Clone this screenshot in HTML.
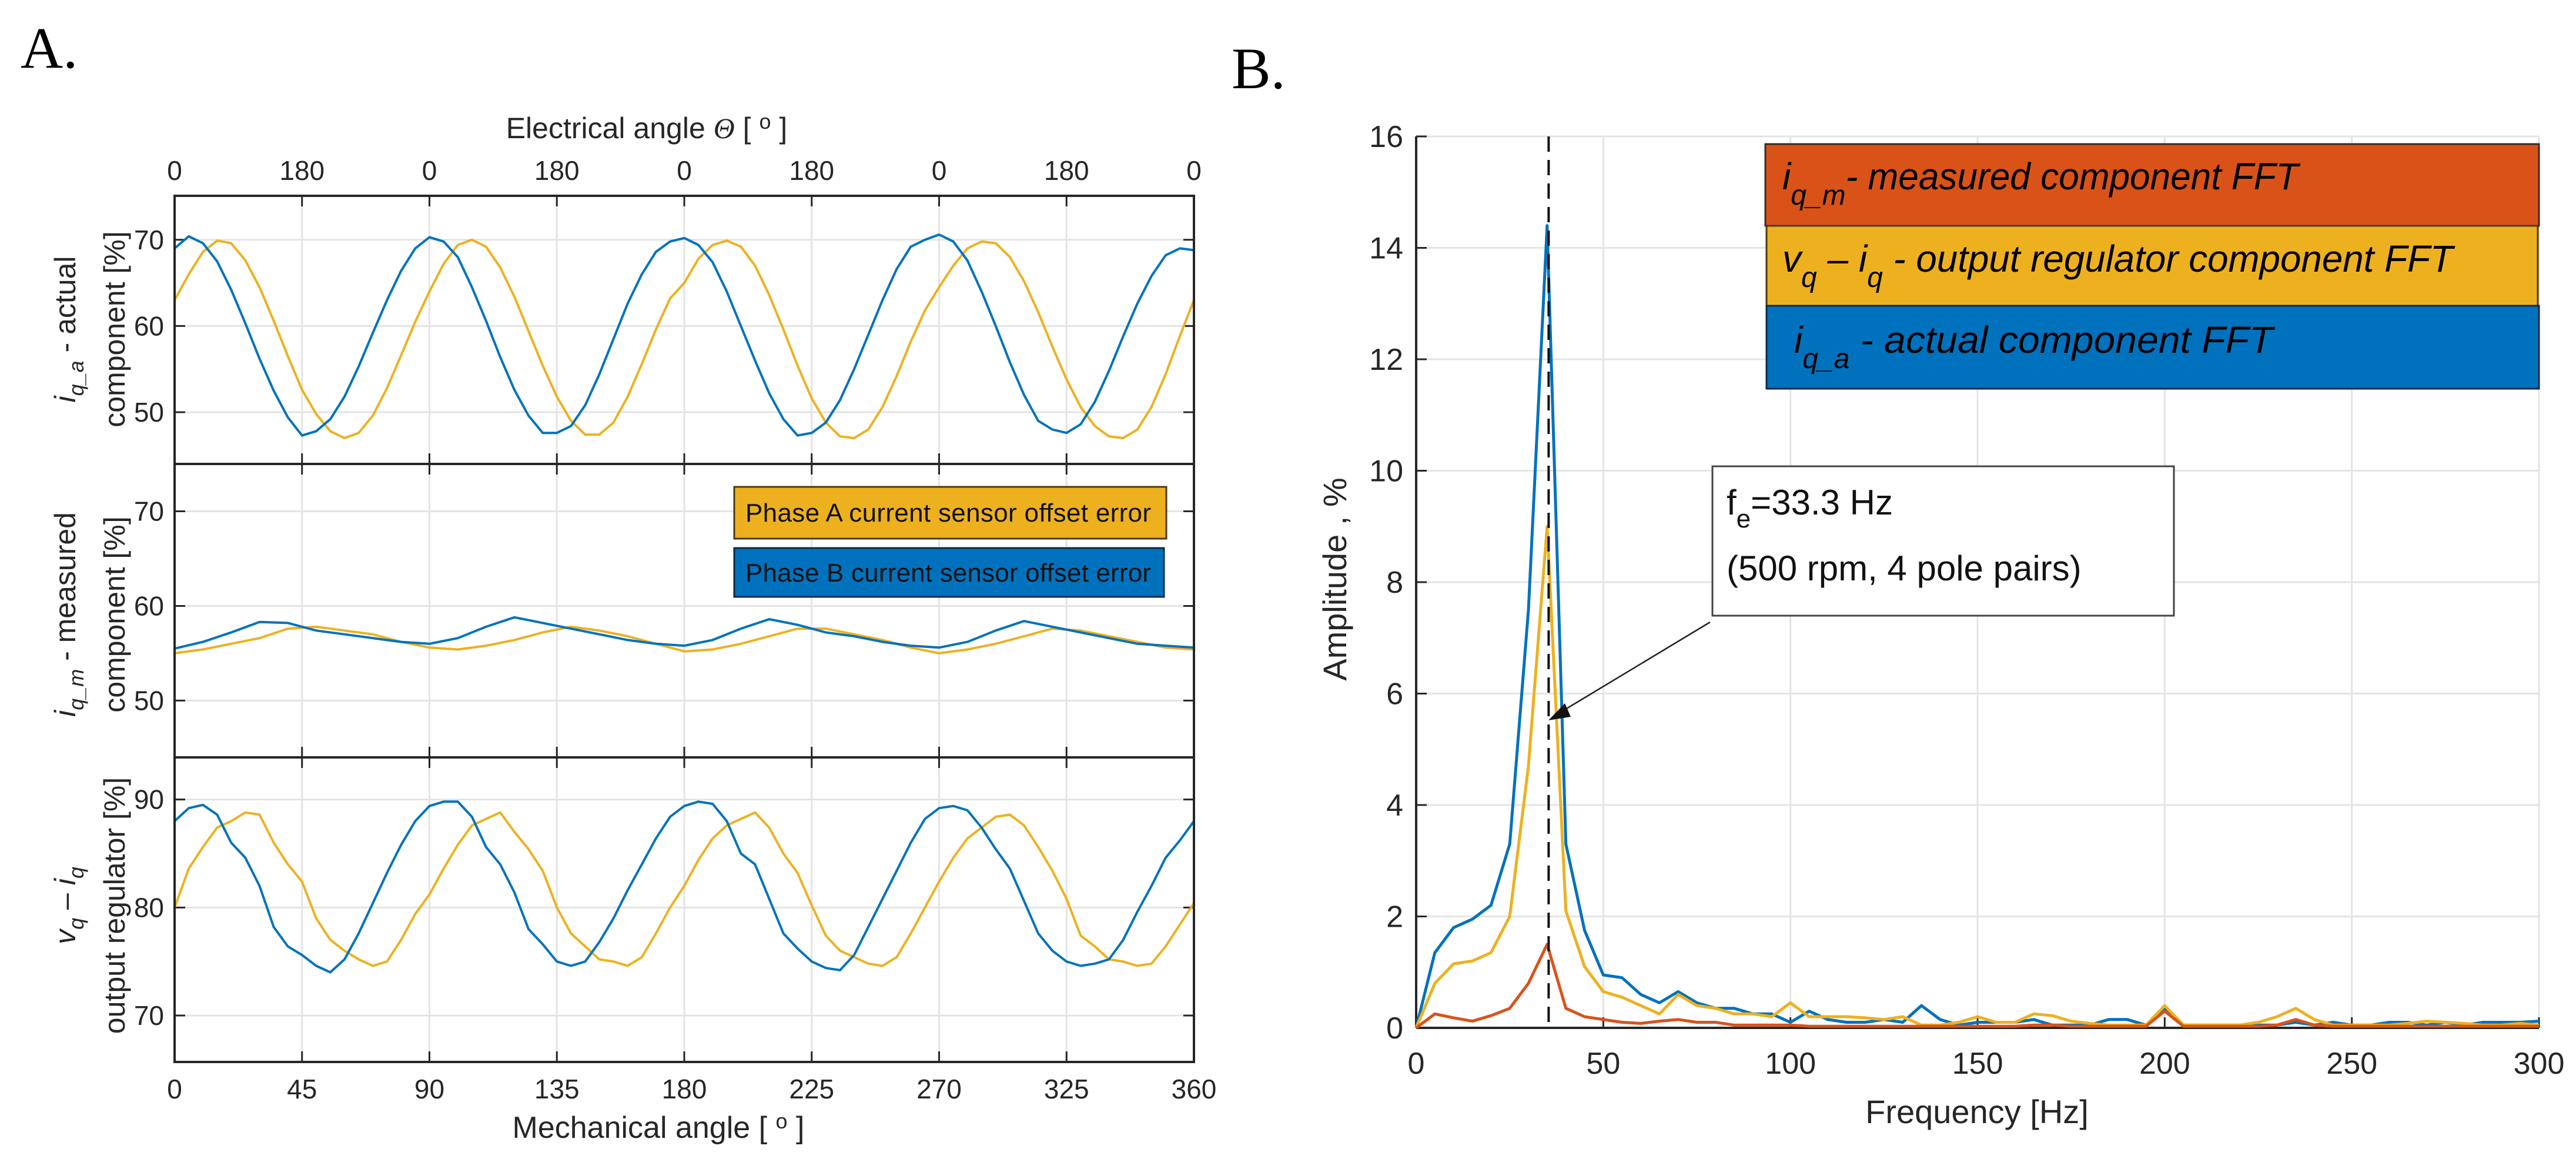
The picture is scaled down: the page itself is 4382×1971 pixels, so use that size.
<!DOCTYPE html>
<html><head><meta charset="utf-8"><style>
html,body{margin:0;padding:0;background:#fff;}
svg{display:block;font-family:"Liberation Sans",sans-serif;}
</style></head><body>
<svg id="fig" width="4382" height="1971" viewBox="0 0 4382 1971" xmlns="http://www.w3.org/2000/svg">
<text x="35" y="115" font-family="Liberation Serif, serif" font-size="100">A.</text>
<text x="2095" y="150" font-family="Liberation Serif, serif" font-size="100">B.</text>
<g id="A"></g>
<g id="B"></g>
</svg>
<script>
// ---------- Panel A data ----------
const angleStep = 5;
const iqaBlue = [69.0,70.4,69.6,67.5,64.2,60.3,56.2,52.5,49.4,47.3,47.8,49.2,51.8,55.3,59.2,63.0,66.4,69.0,
70.3,69.8,68.0,64.5,60.6,56.4,52.6,49.6,47.6,47.6,48.4,50.8,54.4,58.5,62.6,66.0,68.6,69.8,
70.2,69.4,67.4,64.0,60.0,56.0,52.2,49.2,47.3,47.6,48.8,51.4,55.0,59.0,63.0,66.6,69.2,70.0,
70.6,69.8,67.6,64.0,60.0,55.8,52.0,49.0,48.0,47.6,48.6,51.2,54.8,58.8,62.6,65.8,68.2,69.0,68.8];
const iqaOrange = [63.0,66.0,68.6,69.9,69.6,67.6,64.5,60.6,56.5,52.6,49.8,47.8,47.0,47.6,49.6,52.8,56.6,60.5,
64.0,67.2,69.4,70.0,69.2,66.8,63.4,59.4,55.4,51.8,49.0,47.4,47.4,48.8,51.8,55.6,59.6,63.2,
65.0,67.8,69.4,69.9,69.2,67.0,63.6,59.6,55.4,51.6,48.8,47.2,47.0,48.0,50.6,54.2,58.2,61.8,
64.5,67.0,69.0,69.8,69.6,68.0,65.2,61.6,57.6,53.8,50.6,48.4,47.2,47.0,48.0,50.6,54.4,58.8,63.0];
const measStep = 10;
const iqmBlue = [55.5,56.2,57.2,58.3,58.2,57.4,57.0,56.6,56.2,56.0,56.6,57.8,58.8,58.2,57.6,57.0,56.4,56.0,55.8,56.4,57.6,58.6,58.0,57.2,56.8,56.2,55.8,55.6,56.2,57.4,58.4,57.8,57.2,56.6,56.0,55.8,55.6];
const iqmOrange = [55.0,55.4,56.0,56.6,57.6,57.8,57.4,57.0,56.2,55.6,55.4,55.8,56.4,57.2,57.8,57.4,56.8,56.0,55.2,55.4,56.0,56.8,57.6,57.6,57.0,56.4,55.6,55.0,55.4,56.0,56.8,57.6,57.4,56.8,56.2,55.6,55.4];
const vqBlue = [88.0,89.2,89.5,88.6,86.0,84.6,82.0,78.2,76.4,75.6,74.6,74.0,75.2,77.6,80.4,83.2,85.8,88.0,
89.4,89.8,89.8,88.4,85.6,84.0,81.4,78.0,76.6,75.0,74.6,75.0,76.8,79.0,81.6,84.0,86.4,88.4,
89.4,89.8,89.6,88.0,85.0,84.0,80.8,77.6,76.2,75.0,74.4,74.2,75.6,78.2,80.8,83.4,86.0,88.2,
89.2,89.4,89.0,87.4,85.4,83.6,80.6,77.6,76.0,75.0,74.6,74.8,75.2,77.0,79.6,82.0,84.6,86.2,88.0];
const vqOrange = [80.0,83.6,85.6,87.4,88.0,88.8,88.6,86.0,84.0,82.4,79.0,77.0,76.0,75.2,74.6,75.0,77.0,79.4,
81.2,83.6,85.8,87.6,88.2,88.8,87.0,85.4,83.4,80.0,77.6,76.4,75.2,75.0,74.6,75.4,77.6,80.0,
82.0,84.4,86.4,87.6,88.2,88.8,87.4,85.0,83.2,80.2,77.4,76.0,75.4,74.8,74.6,75.4,77.6,80.0,
82.4,84.6,86.4,87.4,88.4,88.6,87.6,85.6,83.4,80.8,77.4,76.4,75.2,75.0,74.6,74.8,76.4,78.4,80.4];
const mechTicks = [0,45,90,135,180,225,270,315,360];
const mechTickLabels = ["0","45","90","135","180","225","270","325","360"];
const elecTickLabels = ["0","180","0","180","0","180","0","180","0"];
const yTicks1 = [50,60,70], yTicks2 = [50,60,70], yTicks3 = [70,80,90];

// ---------- Panel B data ----------
const freqStep = 5;
const fftBlue = [0,1.35,1.8,1.95,2.2,3.3,7.5,14.4,3.3,1.75,0.95,0.9,0.6,0.45,0.65,0.45,0.35,0.35,0.25,0.25,0.1,0.3,0.15,0.1,0.1,0.15,0.1,0.4,0.15,0.05,0.1,0.1,0.1,0.15,0.05,0.05,0.05,0.15,0.15,0.05,0.35,0.05,0.05,0.05,0.05,0.05,0.05,0.1,0.05,0.1,0.05,0.05,0.1,0.1,0.05,0.1,0.05,0.1,0.1,0.1,0.12];
const fftYellow = [0,0.8,1.15,1.2,1.35,2.0,4.7,9.0,2.1,1.1,0.65,0.55,0.4,0.25,0.6,0.4,0.35,0.25,0.25,0.2,0.45,0.2,0.2,0.2,0.18,0.15,0.2,0.05,0.05,0.1,0.2,0.1,0.1,0.25,0.22,0.12,0.08,0.05,0.05,0.05,0.4,0.05,0.05,0.05,0.05,0.1,0.2,0.35,0.15,0.05,0.05,0.05,0.05,0.08,0.12,0.1,0.08,0.05,0.05,0.08,0.05];
const fftRed = [0,0.25,0.18,0.12,0.22,0.35,0.8,1.5,0.35,0.2,0.15,0.1,0.08,0.12,0.15,0.1,0.1,0.05,0.05,0.05,0.05,0.03,0.03,0.03,0.03,0.03,0.03,0.03,0.03,0.03,0.03,0.03,0.03,0.05,0.05,0.03,0.03,0.03,0.03,0.03,0.3,0.03,0.03,0.03,0.03,0.03,0.05,0.15,0.05,0.03,0.03,0.03,0.03,0.03,0.03,0.03,0.03,0.03,0.03,0.03,0.03];
const freqTicks = [0,50,100,150,200,250,300];
const ampTicks = [0,2,4,6,8,10,12,14,16];
const peakFreq = 35.4;

const NS = "http://www.w3.org/2000/svg";
const BLUE = "#0072BD", ORANGE = "#EDB120", RED = "#D95319";
function mk(parent, tag, attrs, text) {
  const el = document.createElementNS(NS, tag);
  for (const k in attrs) el.setAttribute(k, attrs[k]);
  if (text !== undefined) el.textContent = text;
  parent.appendChild(el);
  return el;
}
const A = document.getElementById('A');
const B = document.getElementById('B');

// A axes
const AL = 297, AR = 2031;
const xA = v => AL + (v / 360) * (AR - AL);
const panels = [
  {top:333, bot:789, ymin:44, ymax:75.1, ticks:yTicks1, s:[iqaOrange, iqaBlue], step:angleStep, name:'actual'},
  {top:789, bot:1288, ymin:44, ymax:75, ticks:yTicks2, s:[iqmOrange, iqmBlue], step:measStep, name:'measured'},
  {top:1288, bot:1806, ymin:65.7, ymax:93.9, ticks:yTicks3, s:[vqOrange, vqBlue], step:angleStep, name:'regulator'}
];
panels.forEach((p, pi) => {
  const y = v => p.bot - (v - p.ymin) / (p.ymax - p.ymin) * (p.bot - p.top);
  const g = mk(A, 'g', {});
  
  
  mechTicks.forEach(t => {
    const gl = mk(g, 'line', {x1:xA(t), x2:xA(t), y1:p.top, y2:p.bot, stroke:'#e4e4e4', 'stroke-width':3});
    
    
    mk(g, 'line', {x1:xA(t), x2:xA(t), y1:p.top, y2:p.top+18, stroke:'#262626', 'stroke-width':3});
    mk(g, 'line', {x1:xA(t), x2:xA(t), y1:p.bot, y2:p.bot-18, stroke:'#262626', 'stroke-width':3});
  });
  p.ticks.forEach(t => {
    const gl = mk(g, 'line', {x1:AL, x2:AR, y1:y(t), y2:y(t), stroke:'#e4e4e4', 'stroke-width':3});
    
    
    mk(g, 'line', {x1:AL, x2:AL+18, y1:y(t), y2:y(t), stroke:'#262626', 'stroke-width':3});
    mk(g, 'line', {x1:AR, x2:AR-18, y1:y(t), y2:y(t), stroke:'#262626', 'stroke-width':3});
    const tl = mk(g, 'text', {x:AL-18, y:y(t)+16, 'text-anchor':'end', 'font-size':46, fill:'#262626'}, String(t));
    
    
  });
  [ORANGE, BLUE].forEach((c, si) => {
    const arr = p.s[si];
    const d = arr.map((v, i) => (i ? 'L' : 'M') + xA(i * p.step).toFixed(1) + ' ' + y(v).toFixed(1)).join(' ');
    const path = mk(g, 'path', {d:d, fill:'none', stroke:c, 'stroke-width':4, 'stroke-linejoin':'round'});
    
    
  });
  mk(g, 'rect', {x:AL, y:p.top, width:AR-AL, height:p.bot-p.top, fill:'none', stroke:'#262626', 'stroke-width':4});
});
mechTicks.forEach((t, i) => {
  const b = mk(A, 'text', {x:xA(t), y:1868, 'text-anchor':'middle', 'font-size':46, fill:'#262626'}, mechTickLabels[i]);
  
  
  const tp = mk(A, 'text', {x:xA(t), y:306, 'text-anchor':'middle', 'font-size':46, fill:'#262626'}, elecTickLabels[i]);
  
  
});
</script>
<script>
// labels A
(function(){
  const NS = "http://www.w3.org/2000/svg";
  const A = document.getElementById('A');
  A.insertAdjacentHTML('beforeend', `
  <text x="1100" y="235" text-anchor="middle" font-size="50" fill="#262626">Electrical angle <tspan font-style="italic" font-family="Liberation Serif, serif">Θ</tspan> [ <tspan dy="-16" font-size="36">o</tspan><tspan dy="16"> ]</tspan></text>
  <text x="1120" y="1935" text-anchor="middle" font-size="52" fill="#262626">Mechanical angle [ <tspan dy="-16" font-size="36">o</tspan><tspan dy="16"> ]</tspan></text>
  <g transform="translate(128,560) rotate(-90)"><text text-anchor="middle" font-size="50" fill="#262626"><tspan font-style="italic">i</tspan><tspan font-style="italic" font-size="36" dy="14">q_a</tspan><tspan dy="-14"> - actual</tspan></text></g>
  <g transform="translate(212,560) rotate(-90)"><text text-anchor="middle" font-size="50" fill="#262626">component [%]</text></g>
  <g transform="translate(128,1045) rotate(-90)"><text text-anchor="middle" font-size="50" fill="#262626"><tspan font-style="italic">i</tspan><tspan font-style="italic" font-size="36" dy="14">q_m</tspan><tspan dy="-14"> - measured</tspan></text></g>
  <g transform="translate(212,1045) rotate(-90)"><text text-anchor="middle" font-size="50" fill="#262626">component [%]</text></g>
  <g transform="translate(128,1540) rotate(-90)"><text text-anchor="middle" font-size="50" fill="#262626"><tspan font-style="italic">v</tspan><tspan font-style="italic" font-size="36" dy="14">q</tspan><tspan dy="-14"> – </tspan><tspan font-style="italic">i</tspan><tspan font-style="italic" font-size="36" dy="14">q</tspan></text></g>
  <g transform="translate(212,1540) rotate(-90)"><text text-anchor="middle" font-size="50" fill="#262626">output regulator [%]</text></g>
  <g>
   <rect x="1249" y="828" width="735" height="88" fill="#EDB120" stroke="#4a3a10" stroke-width="3"/>
   <text x="1268" y="887" font-size="44" fill="#111" textLength="690">Phase A current sensor offset error</text>
   <rect x="1249" y="932" width="731" height="83" fill="#0072BD" stroke="#0a2a4a" stroke-width="3"/>
   <text x="1268" y="989" font-size="44" fill="#111" textLength="690">Phase B current sensor offset error</text>
  </g>`);
})();
</script>
<script>
// Panel B
(function(){
  const BL = 2409, BR = 4319, BT = 232, BBt = 1748;
  const xB = v => BL + v / 300 * (BR - BL);
  const yB = v => BBt - v / 16 * (BBt - BT);
  freqTicks.forEach(t => {
    const gl = mk(B, 'line', {x1:xB(t), x2:xB(t), y1:BT, y2:BBt, stroke:'#e4e4e4', 'stroke-width':3});
    
    
    mk(B, 'line', {x1:xB(t), x2:xB(t), y1:BBt, y2:BBt-18, stroke:'#262626', 'stroke-width':3});
    const tl = mk(B, 'text', {x:xB(t), y:1826, 'text-anchor':'middle', 'font-size':52, fill:'#262626'}, String(t));
    
    
  });
  ampTicks.forEach(t => {
    const gl = mk(B, 'line', {x1:BL, x2:BR, y1:yB(t), y2:yB(t), stroke:'#e4e4e4', 'stroke-width':3});
    
    
    mk(B, 'line', {x1:BL, x2:BL+18, y1:yB(t), y2:yB(t), stroke:'#262626', 'stroke-width':3});
    const tl = mk(B, 'text', {x:BL-22, y:yB(t)+18, 'text-anchor':'end', 'font-size':52, fill:'#262626'}, String(t));
    
    
  });
  mk(B, 'line', {x1:BL, x2:BL, y1:BT, y2:BBt, stroke:'#262626', 'stroke-width':4});
  mk(B, 'line', {x1:BL, x2:BR, y1:BBt, y2:BBt, stroke:'#262626', 'stroke-width':4});
  [[fftBlue, BLUE, 'fft-actual-line'], [fftYellow, ORANGE, 'fft-regulator-line'], [fftRed, RED, 'fft-measured-line']].forEach(s => {
    const d = s[0].map((v, i) => (i ? 'L' : 'M') + xB(i * freqStep).toFixed(1) + ' ' + yB(v).toFixed(1)).join(' ');
    const p = mk(B, 'path', {d:d, fill:'none', stroke:s[1], 'stroke-width':5, 'stroke-linejoin':'round'});
    
    
  });
  const dl = mk(B, 'line', {x1:xB(peakFreq), x2:xB(peakFreq), y1:BT, y2:BBt, stroke:'#111', 'stroke-width':4, 'stroke-dasharray':'26 14'});
  
  
  B.insertAdjacentHTML('beforeend', `
  <text x="3363" y="1910" text-anchor="middle" font-size="56" fill="#262626">Frequency [Hz]</text>
  <g transform="translate(2290,985) rotate(-90)"><text text-anchor="middle" font-size="56" fill="#262626">Amplitude , %</text></g>
  <g>
   <rect x="3003" y="245" width="1316" height="139" fill="#D95319" stroke="#3a2a20" stroke-width="3"/>
   <text x="3032" y="322" font-size="64" font-style="italic" fill="#000">i<tspan font-size="48" dy="26">q_m</tspan><tspan dy="-26" textLength="770" lengthAdjust="spacingAndGlyphs">- measured  component FFT</tspan></text>
   <rect x="3005" y="384" width="1312" height="136" fill="#EDB120" stroke="#4a3a10" stroke-width="3"/>
   <text x="3032" y="462" font-size="64" font-style="italic" fill="#000">v<tspan font-size="48" dy="26">q</tspan><tspan dy="-26"> – i</tspan><tspan font-size="48" dy="26">q</tspan><tspan dy="-26" textLength="970" lengthAdjust="spacingAndGlyphs"> - output regulator component FFT</tspan></text>
   <rect x="3005" y="520" width="1314" height="141" fill="#0072BD" stroke="#0a2a4a" stroke-width="3"/>
   <text x="3052" y="600" font-size="64" font-style="italic" fill="#000">i<tspan font-size="48" dy="26">q_a</tspan><tspan dy="-26" textLength="720" lengthAdjust="spacingAndGlyphs"> - actual  component FFT</tspan></text>
  </g>
  <g>
   <rect x="2913" y="793" width="785" height="254" fill="#fff" stroke="#444" stroke-width="3"/>
   <text x="2937" y="875" font-size="60" fill="#111">f<tspan font-size="44" dy="22">e</tspan><tspan dy="-22">=33.3 Hz</tspan></text>
   <text x="2937" y="987" font-size="60" fill="#111">(500 rpm, 4 pole pairs)</text>
  </g>
  <g>
   <line x1="2909" y1="1058" x2="2650" y2="1214" stroke="#222" stroke-width="2.5"/>
   <polygon points="2634,1225 2662,1196 2672,1219" fill="#111"/>
  </g>`);
})();
</script>
</body></html>
